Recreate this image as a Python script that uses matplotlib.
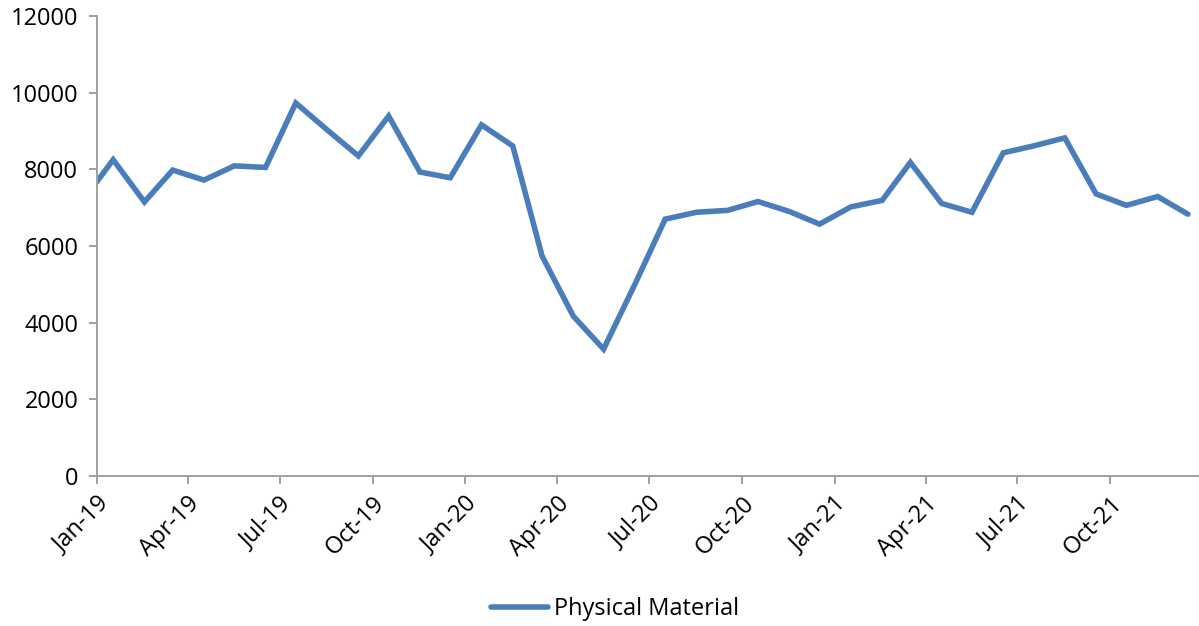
import matplotlib
matplotlib.use("Agg")
import matplotlib.pyplot as plt
import matplotlib.dates as mdates
import datetime as dt

# Monthly values (plotted mid-month); first value (Dec-18) is clipped by axis start
months = ["2018-12", "2019-01", "2019-02", "2019-03", "2019-04", "2019-05", "2019-06",
          "2019-07", "2019-08", "2019-09", "2019-10", "2019-11", "2019-12",
          "2020-01", "2020-02", "2020-03", "2020-04", "2020-05", "2020-06",
          "2020-07", "2020-08", "2020-09", "2020-10", "2020-11", "2020-12",
          "2021-01", "2021-02", "2021-03", "2021-04", "2021-05", "2021-06",
          "2021-07", "2021-08", "2021-09", "2021-10", "2021-11", "2021-12"]
physical_material = [7150, 8250, 7150, 7980, 7720, 8090, 8050,
                     9730, 9030, 8350, 9390, 7930, 7780,
                     9160, 8610, 5740, 4170, 3310, 5000,
                     6700, 6880, 6930, 7160, 6900, 6570,
                     7020, 7190, 8180, 7110, 6880, 8430,
                     8610, 8820, 7360, 7060, 7290, 6830]
tick_labels = ["Jan-19", "Apr-19", "Jul-19", "Oct-19", "Jan-20", "Apr-20", "Jul-20",
               "Oct-20", "Jan-21", "Apr-21", "Jul-21", "Oct-21"]
y_ticks = [0, 2000, 4000, 6000, 8000, 10000, 12000]

dates = [dt.datetime.strptime(m + "-17", "%Y-%m-%d") for m in months]
tick_dates = [dt.datetime.strptime(t, "%b-%y") for t in tick_labels]

plt.rcParams['font.family'] = ['Open Sans', 'DejaVu Sans']

W, H = 1199, 626
fig = plt.figure(figsize=(W / 100, H / 100), dpi=100)
ax = fig.add_axes([97 / W, (H - 476) / H, (1199 - 97) / W, (476 - 16) / H])

line_color = "#4A7EBB"
ax.plot(dates, physical_material, color=line_color, lw=4.0,
        solid_joinstyle="miter", solid_capstyle="round", label="Physical Material")

ax.set_xlim(dt.datetime(2019, 1, 1), dt.datetime(2021, 12, 28))
ax.set_ylim(0, 12000)
ax.set_yticks(y_ticks)
ax.set_xticks([mdates.date2num(d) for d in tick_dates])
ax.set_xticklabels(tick_labels, rotation=45, ha="right", rotation_mode="anchor")

spine_color = "#A0A0A0"
for s in ["top", "right"]:
    ax.spines[s].set_visible(False)
for s in ["left", "bottom"]:
    ax.spines[s].set_color(spine_color)
    ax.spines[s].set_linewidth(1.4)
ax.tick_params(axis="both", direction="out", length=5.5, width=1.4, color=spine_color,
               labelsize=17, labelcolor="black")
ax.tick_params(axis="y", pad=8)
ax.tick_params(axis="x", pad=6)

leg = fig.legend(loc="center", bbox_to_anchor=(615 / W, (H - 609) / H), frameon=False,
                 fontsize=17, handlelength=2.4, handletextpad=0.25)

fig.savefig("out.png", dpi=100)
